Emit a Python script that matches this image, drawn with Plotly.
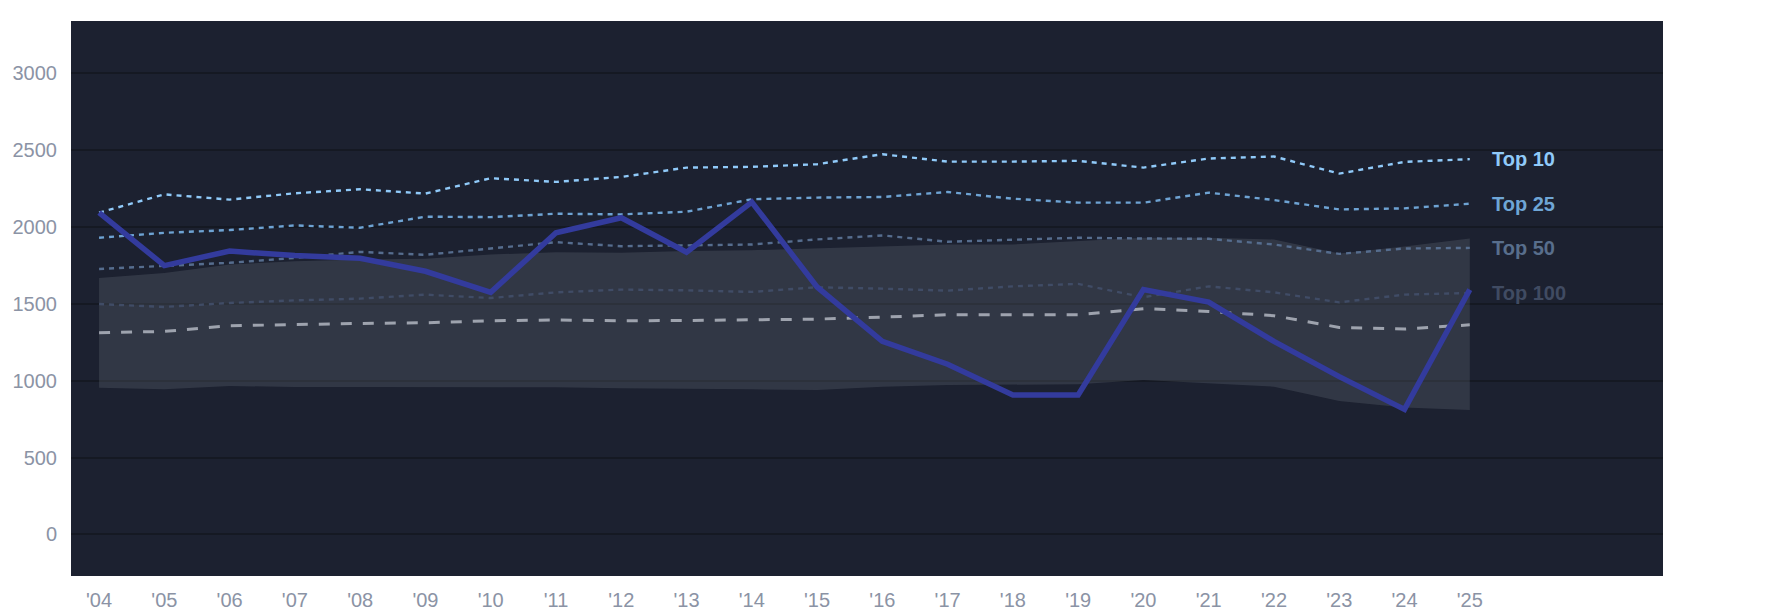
import plotly.graph_objects as go

years = list(range(2004, 2026))
tick_labels = ["'%02d" % (y % 100) for y in years]

main = [2092, 1748, 1842, 1813, 1796, 1711, 1574, 1961, 2059, 1835, 2161, 1609,
        1255, 1107, 907, 907, 1592, 1511, 1255, 1026, 813, 1592]
top10 = [2092, 2211, 2177, 2218, 2244, 2216, 2316, 2292, 2324, 2385, 2390, 2407,
         2472, 2424, 2424, 2429, 2385, 2444, 2457, 2346, 2422, 2440]
top25 = [1929, 1961, 1979, 2009, 1994, 2066, 2063, 2085, 2081, 2098, 2179, 2190,
         2194, 2226, 2183, 2157, 2157, 2222, 2174, 2113, 2120, 2150]
top50 = [1726, 1744, 1766, 1798, 1837, 1818, 1859, 1900, 1874, 1879, 1885, 1918,
         1944, 1903, 1918, 1929, 1924, 1922, 1885, 1824, 1859, 1863]
top100 = [1498, 1479, 1505, 1522, 1533, 1559, 1537, 1574, 1592, 1587, 1577, 1607,
          1598, 1585, 1613, 1629, 1542, 1613, 1574, 1509, 1559, 1570]
median = [1311, 1320, 1357, 1365, 1372, 1376, 1389, 1394, 1389, 1391, 1394, 1400,
          1413, 1429, 1429, 1429, 1468, 1450, 1422, 1346, 1335, 1363]
band_hi = [1668, 1700, 1755, 1776, 1787, 1792, 1820, 1835, 1831, 1842, 1848, 1859,
           1870, 1885, 1885, 1907, 1929, 1929, 1918, 1826, 1872, 1924]
band_lo = [954, 944, 965, 959, 959, 959, 961, 957, 950, 949, 944, 939,
           961, 972, 976, 976, 1004, 983, 961, 868, 825, 809]

tiers = [
    ("Top 100", top100, "#404c66", "#404b62"),
    ("Top 50", top50, "#566d8e", "#586e8c"),
    ("Top 25", top25, "#6ea3d3", "#6fa6d6"),
    ("Top 10", top10, "#90caf9", "#90caf9"),
]

fig = go.Figure()

fig.add_trace(go.Scatter(x=years, y=band_lo, mode="lines", line=dict(width=0),
                         hoverinfo="skip", showlegend=False))
fig.add_trace(go.Scatter(x=years, y=band_hi, mode="lines", line=dict(width=0),
                         fill="tonexty", fillcolor="rgba(112,120,132,0.26)",
                         hoverinfo="skip", showlegend=False))

fig.add_trace(go.Scatter(x=years, y=median, mode="lines",
                         line=dict(color="#9ea3ae", width=3, dash="11px,11px"),
                         showlegend=False))

for name, vals, lc, tc in tiers:
    fig.add_trace(go.Scatter(x=years, y=vals, mode="lines", name=name,
                             line=dict(color=lc, width=2.4, dash="5px,5px"),
                             showlegend=False))
    fig.add_annotation(x=years[-1], y=vals[-1], text="<b>%s</b>" % name,
                       xanchor="left", yanchor="middle", xshift=20,
                       showarrow=False,
                       font=dict(family="Liberation Sans, Arial, sans-serif",
                                 size=20, color=tc))

fig.add_trace(go.Scatter(x=years, y=main, mode="lines",
                         line=dict(color="#333b9d", width=5.5),
                         showlegend=False))

fig.update_layout(
    width=1785, height=614, autosize=False,
    margin=dict(l=63, r=130, t=13, b=45.5, pad=0, autoexpand=False),
    paper_bgcolor="#ffffff", plot_bgcolor="#1c2130",
    font=dict(family="Liberation Sans, Arial, sans-serif", size=20, color="#8b93a5"),
    showlegend=False,
)
fig.update_xaxes(range=[2003.57, 2027.96], tickvals=years, ticktext=tick_labels,
                 showgrid=False, zeroline=False, showline=False, automargin=False,
                 ticklabelstandoff=10, tickfont=dict(size=20, color="#8b93a5"))
fig.update_yaxes(range=[-270, 3338], tickvals=[0, 500, 1000, 1500, 2000, 2500, 3000],
                 showgrid=True, gridcolor="#151923", gridwidth=2,
                 zeroline=False, showline=False, automargin=False,
                 ticklabelstandoff=13, tickfont=dict(size=20, color="#8b93a5"))

fig.write_html("out.html")
